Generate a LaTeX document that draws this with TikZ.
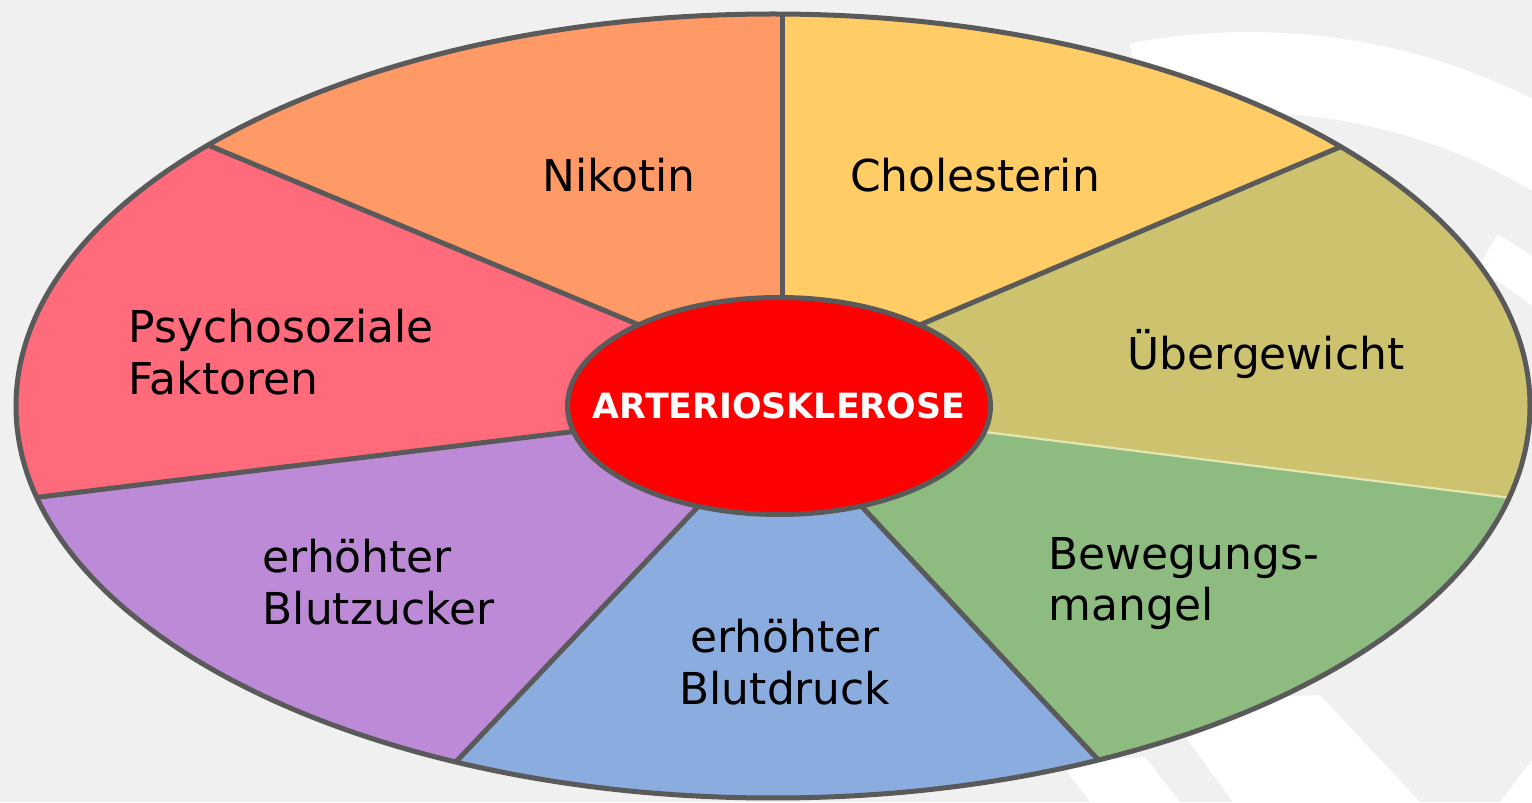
\documentclass[tikz,border=0pt]{standalone}
\usepackage{fontspec}
\setmainfont{DejaVu Sans}
\usetikzlibrary{shapes.geometric, calc, positioning}

\definecolor{fondo}{HTML}{F0F0F0}
\definecolor{borde}{HTML}{5A5A5A}
\definecolor{cNikotin}{HTML}{FF9966}
\definecolor{cCholest}{HTML}{FFCC66}
\definecolor{cUeberg}{HTML}{CDC36F}
\definecolor{cBewegung}{HTML}{8DBB80}
\definecolor{cDruck}{HTML}{8AACDF}
\definecolor{cZucker}{HTML}{BC8AD6}
\definecolor{cPsycho}{HTML}{FF6B7B}
\definecolor{rayaclara}{HTML}{E6E8B4}

\begin{document}
\begin{tikzpicture}[
		% --- ESTILOS ---
		spoke/.style = {draw=borde, line width=0.05cm},
		factor/.style = {inner sep=0pt, text=black, font=\fontsize{12.5}{14.7}\selectfont},
		core/.style = {draw=borde, fill=red, ellipse, line width=0.05cm, minimum width=4.23cm, minimum height=2.17cm, inner sep=0pt},
		coretext/.style = {inner sep=0pt, text=white, font=\fontsize{9.9}{12}\selectfont\bfseries}
		]
		
		% --- FONDO ---
		\fill[fondo] (0,0) rectangle (15.32,8.02);
		\useasboundingbox (0,0) rectangle (15.32,8.02);
		\begin{scope}
			\clip (0,0) rectangle (15.32,8.02);
			% marca de agua (arcos blancos)
			\draw[white, line width=0.81cm] (12.50,1.39) ++(101:5.905) arc[start angle=101, end angle=0, radius=5.905];
			\draw[white, line width=0.40cm] (12.50,1.39) ++(60:4.75) arc[start angle=60, end angle=0, radius=4.75];
			\fill[white] (11.60,1.00) -- (13.20,1.07) -- (14.20,0) -- (12.33,0) -- cycle;
			\fill[white] (10.60,0.40) -- (11.45,0.45) -- (11.80,0) -- (10.90,0) -- cycle;
			\fill[white] (15.00,0) -- (15.32,0.42) -- (15.32,0) -- cycle;
		\end{scope}
		
		% --- PUNTOS DE LOS RADIOS ---
		\coordinate (c) at (7.79,3.96);
		\coordinate (o) at (7.73,3.96);
		\coordinate (p1) at (7.82,5.05);  \coordinate (q1) at (7.82,7.88);
		\coordinate (p2) at (9.22,4.78);  \coordinate (q2) at (13.40,6.55);
		\coordinate (p3) at (9.85,3.70);  \coordinate (q3) at (15.27,3.02);
		\coordinate (p4) at (8.65,2.92);  \coordinate (q4) at (11.03,0.37);
		\coordinate (p5) at (6.93,2.90);  \coordinate (q5) at (4.53,0.37);
		\coordinate (p6) at (5.70,3.70);  \coordinate (q6) at (0.40,3.05);
		\coordinate (p7) at (6.32,4.80);  \coordinate (q7) at (2.15,6.54);
		
		\coordinate (f1) at ($(p1)!3!(q1)$);
		\coordinate (f2) at ($(p2)!3!(q2)$);
		\coordinate (f3) at ($(p3)!3!(q3)$);
		\coordinate (f4) at ($(p4)!3!(q4)$);
		\coordinate (f5) at ($(p5)!3!(q5)$);
		\coordinate (f6) at ($(p6)!3!(q6)$);
		\coordinate (f7) at ($(p7)!3!(q7)$);
		
		% --- SECTORES ---
		\begin{scope}
			\clip (o) ellipse [x radius=7.57, y radius=3.92];
			\fill[cCholest]  (c) -- (p1) -- (f1) -- (f2) -- (p2) -- cycle;
			\fill[cUeberg]   (c) -- (p2) -- (f2) -- (f3) -- (p3) -- cycle;
			\fill[cBewegung] (c) -- (p3) -- (f3) -- (f4) -- (p4) -- cycle;
			\fill[cDruck]    (c) -- (p4) -- (f4) -- (f5) -- (p5) -- cycle;
			\fill[cZucker]   (c) -- (p5) -- (f5) -- (f6) -- (p6) -- cycle;
			\fill[cPsycho]   (c) -- (p6) -- (f6) -- (f7) -- (p7) -- cycle;
			\fill[cNikotin]  (c) -- (p7) -- (f7) -- (f1) -- (p1) -- cycle;
			
			% radios
			\draw[spoke] ($(p1)!-0.1!(q1)$) -- (f1);
			\draw[spoke] ($(p2)!-0.1!(q2)$) -- (f2);
			\draw[rayaclara, line width=0.6pt] ($(p3)!-0.1!(q3)$) -- (f3);
			\draw[spoke] ($(p4)!-0.1!(q4)$) -- (f4);
			\draw[spoke] ($(p5)!-0.1!(q5)$) -- (f5);
			\draw[spoke] ($(p6)!-0.1!(q6)$) -- (f6);
			\draw[spoke] ($(p7)!-0.1!(q7)$) -- (f7);
		\end{scope}
		\draw[spoke] (o) ellipse [x radius=7.57, y radius=3.92];
		
		% --- CENTRO ---
		\node[core] (arterio) at (c) {};
		\node[coretext] (arteriotxt) at (arterio.center) {ARTERIOSKLEROSE};
		
		% --- FACTORES ---
		\node[factor, anchor=base] (nikotin) at (6.19,6.10) {Nikotin};
		\node[factor, anchor=base] (cholest) at (9.75,6.10) {Cholesterin};
		\node[factor, anchor=base] (ueberg) at (12.66,4.32) {Übergewicht};
		\node[factor, anchor=north west, align=left] (bewegung) at (10.48,2.655) {Bewegungs-\\mangel};
		\node[factor, anchor=north, align=center] (druck) at (7.85,1.835) {erhöhter\\Blutdruck};
		\node[factor, anchor=north west, align=left] (zucker) at (2.62,2.635) {erhöhter\\Blutzucker};
		\node[factor, anchor=north west, align=left] (psycho) at (1.28,4.935) {Psychosoziale\\Faktoren};
		
	\end{tikzpicture}
\end{document}
